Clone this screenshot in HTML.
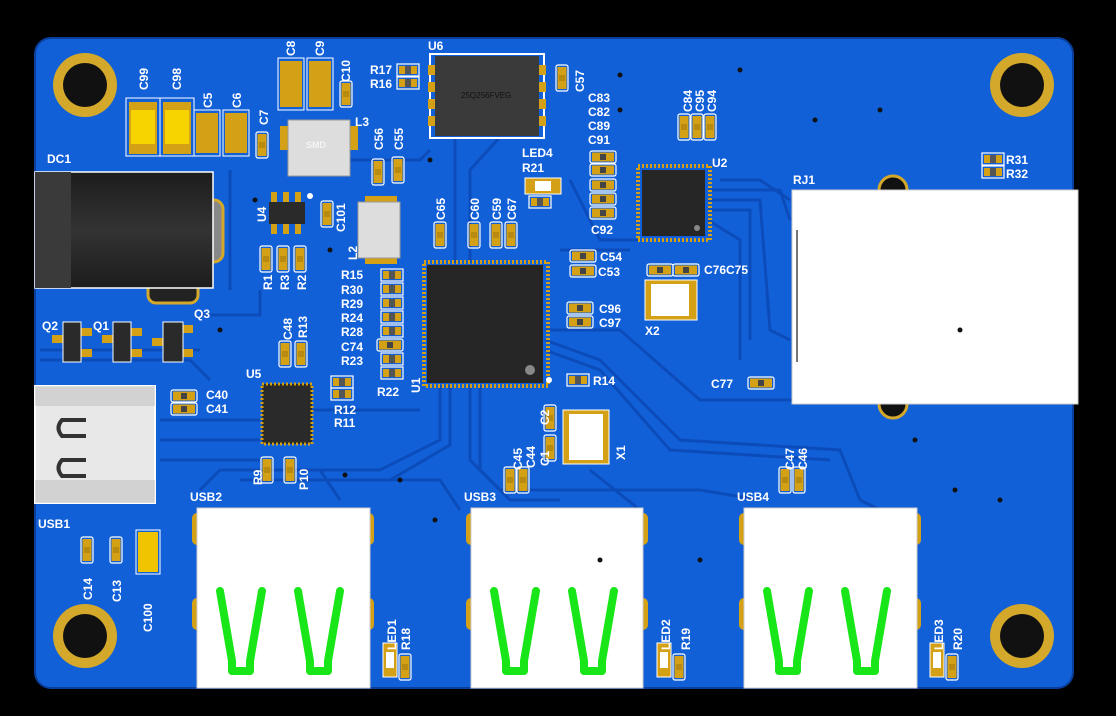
<!DOCTYPE html>
<html><head><meta charset="utf-8"><style>
html,body{margin:0;padding:0;background:#000;}
svg{display:block}
text{font-family:"Liberation Sans",sans-serif;font-weight:bold;fill:#fff;font-size:12px}
</style></head><body>
<svg width="1116" height="716" viewBox="0 0 1116 716" xmlns="http://www.w3.org/2000/svg">
<defs>
<g id="cv"><rect x="-6" y="-13" width="12" height="26" fill="none" stroke="#fff" stroke-width="1.2" rx="2"/><rect x="-4.5" y="-11" width="9" height="22" fill="#d4a016"/><rect x="-3" y="-3" width="6" height="6" fill="#b88a10"/></g>
<g id="ch"><rect x="-13" y="-6" width="26" height="12" fill="none" stroke="#fff" stroke-width="1.2" rx="2"/><rect x="-11" y="-4.5" width="22" height="9" fill="#d4a016"/><rect x="-3" y="-3" width="6" height="6" fill="#444"/></g>
<g id="rh"><rect x="-11" y="-6" width="22" height="12" fill="none" stroke="#fff" stroke-width="1.2"/><rect x="-9" y="-4" width="6" height="8" fill="#d4a016"/><rect x="3" y="-4" width="6" height="8" fill="#d4a016"/><rect x="-3" y="-4" width="6" height="8" fill="#555"/></g>
<g id="hole"><circle r="32" fill="#d4a82a"/><circle r="22" fill="#111"/></g>
<g id="usbg" fill="none" stroke="#19e619" stroke-width="8" stroke-linecap="round" stroke-linejoin="round"><path d="M0,0 L12,70 L12,80 L30,80 L30,70 L42,0"/><path d="M78,0 L90,70 L90,80 L108,80 L108,70 L120,0"/></g>
<linearGradient id="dcg" x1="0" y1="0" x2="0" y2="1"><stop offset="0" stop-color="#1c1c1c"/><stop offset=".5" stop-color="#333"/><stop offset="1" stop-color="#1c1c1c"/></linearGradient>
</defs>
<rect width="1116" height="716" fill="#000"/>
<rect x="35" y="38" width="1038" height="650" rx="16" fill="#1260d8" stroke="#0a3f9e" stroke-width="2"/>
<!-- traces -->
<g fill="none" stroke="#0c4cba" stroke-width="3">
<path d="M440,385 L440,440 L380,470 L220,470 L200,490"/><path d="M450,385 L450,445 L390,480 L240,480"/><path d="M470,385 L470,460 L500,490 L700,490 L760,500"/><path d="M480,385 L480,470 L510,500 L560,500"/><path d="M545,340 L600,360 L680,440 L840,450 L860,500"/><path d="M545,350 L600,370 L670,450 L830,460"/><path d="M545,330 L620,330 L700,400 L800,400"/><path d="M708,190 L780,190 L790,220"/><path d="M708,200 L760,200 L770,330 L790,340"/><path d="M708,210 L750,210 L750,340"/><path d="M708,220 L740,240 L740,360"/><path d="M500,137 L470,170 L470,263"/><path d="M455,137 L455,263"/><path d="M570,180 L600,240 L640,240"/><path d="M312,410 L420,410"/><path d="M160,420 L260,420"/><path d="M160,440 L260,440"/><path d="M160,460 L260,460"/><path d="M200,315 L260,315 L260,290"/><path d="M40,350 L200,350"/><path d="M40,360 L190,360 L210,380"/><path d="M230,170 L230,290"/><path d="M320,160 L420,160 L430,150"/><path d="M720,180 L760,180 L790,200"/><path d="M560,250 L630,250"/><path d="M860,500 L880,510"/><path d="M590,470 L640,510"/><path d="M320,470 L340,500"/><path d="M320,480 L440,480 L460,510"/></g>
<!-- holes -->
<use href="#hole" x="85" y="85"/><use href="#hole" x="1022" y="85"/><use href="#hole" x="85" y="636"/><use href="#hole" x="1022" y="636"/>
<!-- DC jack -->
<rect x="148" y="275" width="50" height="28" rx="8" fill="#222" stroke="#d4a82a" stroke-width="3"/>
<rect x="205" y="200" width="18" height="62" rx="9" fill="#888" stroke="#d4a82a" stroke-width="3"/>
<rect x="35" y="172" width="178" height="116" fill="url(#dcg)" stroke="#fff" stroke-width="1.5"/>
<rect x="35" y="172" width="36" height="116" fill="#3a3a3a"/>
<text x="47" y="163">DC1</text>
<!-- transistors -->
<g fill="#d4a016"><rect x="52" y="335" width="12" height="8"/><rect x="80" y="328" width="12" height="8"/><rect x="80" y="349" width="12" height="8"/><rect x="102" y="335" width="12" height="8"/><rect x="130" y="328" width="12" height="8"/><rect x="130" y="349" width="12" height="8"/><rect x="152" y="338" width="12" height="8"/><rect x="183" y="325" width="10" height="8"/><rect x="183" y="349" width="10" height="8"/></g>
<rect x="63" y="322" width="18" height="40" fill="#2a2a2a" stroke="#fff"/><rect x="113" y="322" width="18" height="40" fill="#2a2a2a" stroke="#fff"/><rect x="163" y="322" width="20" height="40" fill="#2a2a2a" stroke="#fff"/>
<text x="42" y="330">Q2</text><text x="93" y="330">Q1</text><text x="194" y="318">Q3</text>
<!-- USB-C -->
<rect x="35" y="386" width="120" height="117" fill="#e8e8e8" stroke="#fff" stroke-width="2"/>
<rect x="35" y="386" width="120" height="20" fill="#bbb" opacity=".5"/>
<rect x="35" y="480" width="120" height="23" fill="#bbb" opacity=".5"/>
<path d="M86,420 L62,420 Q55,428 62,436 L86,436" fill="none" stroke="#333" stroke-width="4"/>
<path d="M86,460 L62,460 Q55,468 62,476 L86,476" fill="none" stroke="#333" stroke-width="4"/>
<text x="38" y="528">USB1</text>
<use href="#ch" x="184" y="396"/><use href="#ch" x="184" y="409"/><text x="206" y="399">C40</text><text x="206" y="413">C41</text>
<!-- left bottom caps -->
<use href="#cv" x="87" y="550"/><use href="#cv" x="116" y="550"/>
<rect x="136" y="530" width="24" height="44" fill="none" stroke="#fff"/><rect x="138" y="532" width="20" height="40" fill="#f0c400"/>
<!-- top left caps -->
<rect x="126" y="98" width="34" height="58" fill="none" stroke="#fff"/><rect x="129" y="102" width="28" height="52" fill="#d4a016"/><rect x="131" y="110" width="24" height="34" fill="#f7d400"/>
<rect x="160" y="98" width="34" height="58" fill="none" stroke="#fff"/><rect x="163" y="102" width="28" height="52" fill="#d4a016"/><rect x="165" y="110" width="24" height="34" fill="#f7d400"/>
<rect x="194" y="110" width="26" height="46" fill="none" stroke="#fff"/><rect x="196" y="113" width="22" height="40" fill="#d4a016"/>
<rect x="223" y="110" width="26" height="46" fill="none" stroke="#fff"/><rect x="225" y="113" width="22" height="40" fill="#d4a016"/>
<use href="#cv" x="262" y="145"/>
<rect x="278" y="58" width="26" height="52" fill="none" stroke="#fff"/><rect x="280" y="61" width="22" height="46" fill="#d4a016"/>
<rect x="307" y="58" width="26" height="52" fill="none" stroke="#fff"/><rect x="309" y="61" width="22" height="46" fill="#d4a016"/>
<use href="#cv" x="346" y="94"/>
<!-- L3 -->
<rect x="280" y="126" width="8" height="24" fill="#d4a016"/><rect x="350" y="126" width="8" height="24" fill="#d4a016"/>
<rect x="288" y="120" width="62" height="56" fill="#ddd" stroke="#999"/><text x="306" y="148" style="font-size:9px;fill:#f4f4f4">SMD</text><text x="355" y="126">L3</text>
<!-- U4 -->
<g fill="#d4a016"><rect x="271" y="192" width="6" height="10"/><rect x="283" y="192" width="6" height="10"/><rect x="295" y="192" width="6" height="10"/><rect x="271" y="224" width="6" height="10"/><rect x="283" y="224" width="6" height="10"/><rect x="295" y="224" width="6" height="10"/></g>
<rect x="269" y="202" width="36" height="22" fill="#2a2a2a"/><circle cx="310" cy="196" r="3" fill="#fff"/>
<use href="#cv" x="327" y="214"/>
<use href="#cv" x="378" y="172"/><use href="#cv" x="398" y="170"/>
<!-- L2 -->
<rect x="365" y="196" width="32" height="8" fill="#d4a016"/><rect x="365" y="256" width="32" height="8" fill="#d4a016"/>
<rect x="358" y="202" width="42" height="56" fill="#ddd" stroke="#999"/>
<!-- R1-3 -->
<use href="#cv" x="266" y="259"/><use href="#cv" x="283" y="259"/><use href="#cv" x="300" y="259"/>
<!-- U5 -->
<rect x="262" y="384" width="50" height="60" fill="#2a2a2a" stroke="#d4a016" stroke-width="3" stroke-dasharray="2 2"/>
<text x="246" y="378">U5</text>
<use href="#cv" x="285" y="354"/><use href="#cv" x="301" y="354"/>
<use href="#rh" x="342" y="382"/><use href="#rh" x="342" y="394"/><text x="334" y="414">R12</text><text x="334" y="427">R11</text>
<use href="#cv" x="267" y="470"/><use href="#cv" x="290" y="470"/>
<!-- R stack -->
<g><use href="#rh" x="392" y="275"/><use href="#rh" x="392" y="289"/><use href="#rh" x="392" y="303"/><use href="#rh" x="392" y="317"/><use href="#rh" x="392" y="331"/><use href="#ch" x="390" y="345"/><use href="#rh" x="392" y="359"/><use href="#rh" x="392" y="373"/></g>
<text x="341" y="279">R15</text><text x="341" y="294">R30</text><text x="341" y="308">R29</text><text x="341" y="322">R24</text><text x="341" y="336">R28</text><text x="341" y="351">C74</text><text x="341" y="365">R23</text><text x="377" y="396">R22</text>
<!-- U1 -->
<rect x="424" y="262" width="124" height="124" fill="none" stroke="#d4a016" stroke-width="4" stroke-dasharray="2 2"/>
<rect x="427" y="265" width="116" height="118" fill="#262626"/><circle cx="530" cy="370" r="5" fill="#888"/><circle cx="549" cy="380" r="3" fill="#fff"/>
<!-- U6 -->
<rect x="430" y="54" width="114" height="84" fill="none" stroke="#fff" stroke-width="2"/>
<g fill="#d4a016"><rect x="428" y="65" width="7" height="10"/><rect x="428" y="82" width="7" height="10"/><rect x="428" y="99" width="7" height="10"/><rect x="428" y="116" width="7" height="10"/><rect x="539" y="65" width="7" height="10"/><rect x="539" y="82" width="7" height="10"/><rect x="539" y="99" width="7" height="10"/><rect x="539" y="116" width="7" height="10"/></g>
<rect x="435" y="56" width="104" height="80" fill="#3a3a3a"/>
<text x="461" y="98" style="font-size:8px;font-weight:normal;fill:#111">25Q256FVEG</text>
<text x="428" y="50">U6</text>
<use href="#rh" x="408" y="70"/><use href="#rh" x="408" y="83"/><text x="370" y="74">R17</text><text x="370" y="88">R16</text>
<use href="#cv" x="562" y="78"/>
<!-- mid caps -->
<use href="#cv" x="440" y="235"/><use href="#cv" x="474" y="235"/><use href="#cv" x="496" y="235"/><use href="#cv" x="511" y="235"/>
<text x="522" y="157">LED4</text><text x="522" y="172">R21</text>
<rect x="525" y="178" width="36" height="16" fill="#d4a016" stroke="#fff"/><rect x="535" y="181" width="16" height="10" fill="#fff"/>
<use href="#rh" x="540" y="202"/>
<text x="588" y="102">C83</text><text x="588" y="116">C82</text><text x="588" y="130">C89</text><text x="588" y="144">C91</text><text x="591" y="234">C92</text>
<use href="#ch" x="603" y="157"/><use href="#ch" x="603" y="170"/><use href="#ch" x="603" y="185"/><use href="#ch" x="603" y="199"/><use href="#ch" x="603" y="213"/>
<use href="#cv" x="684" y="127"/><use href="#cv" x="697" y="127"/><use href="#cv" x="710" y="127"/>
<!-- U2 -->
<rect x="638" y="166" width="72" height="74" fill="none" stroke="#d4a016" stroke-width="4" stroke-dasharray="2 2"/>
<rect x="642" y="170" width="63" height="66" fill="#262626"/><circle cx="697" cy="228" r="3" fill="#888"/>
<text x="712" y="167">U2</text>
<use href="#ch" x="583" y="256"/><use href="#ch" x="583" y="271"/><text x="600" y="261">C54</text><text x="598" y="276">C53</text>
<use href="#ch" x="660" y="270"/><use href="#ch" x="686" y="270"/><text x="704" y="274">C76C75</text>
<rect x="645" y="280" width="52" height="40" fill="#d4a016" stroke="#fff"/><rect x="651" y="284" width="38" height="32" fill="#fff"/>
<text x="645" y="335">X2</text>
<use href="#ch" x="580" y="308"/><use href="#ch" x="580" y="322"/><text x="599" y="313">C96</text><text x="599" y="327">C97</text>
<use href="#rh" x="578" y="380"/><text x="593" y="385">R14</text>
<use href="#ch" x="761" y="383"/><text x="711" y="388">C77</text>
<!-- X1 -->
<use href="#cv" x="550" y="418"/><use href="#cv" x="550" y="448"/>
<rect x="563" y="410" width="46" height="54" fill="#d4a016" stroke="#fff"/><rect x="569" y="414" width="34" height="46" fill="#fff"/>
<use href="#cv" x="510" y="480"/><use href="#cv" x="523" y="480"/><use href="#cv" x="785" y="480"/><use href="#cv" x="799" y="480"/>
<!-- RJ1 -->
<circle cx="893" cy="190" r="14" fill="#111" stroke="#d4a82a" stroke-width="3"/><circle cx="893" cy="404" r="14" fill="#111" stroke="#d4a82a" stroke-width="3"/>
<rect x="792" y="190" width="286" height="214" fill="#fff" stroke="#ccc"/>
<line x1="797" y1="230" x2="797" y2="362" stroke="#777" stroke-width="2"/>
<text x="793" y="184">RJ1</text>
<use href="#rh" x="993" y="159"/><use href="#rh" x="993" y="172"/><text x="1006" y="164">R31</text><text x="1006" y="178">R32</text>
<!-- USB ports -->
<g fill="#d4a016"><rect x="192" y="513" width="10" height="32" rx="5"/><rect x="364" y="513" width="10" height="32" rx="5"/><rect x="192" y="598" width="10" height="32" rx="5"/><rect x="364" y="598" width="10" height="32" rx="5"/>
<rect x="466" y="513" width="10" height="32" rx="5"/><rect x="638" y="513" width="10" height="32" rx="5"/><rect x="466" y="598" width="10" height="32" rx="5"/><rect x="638" y="598" width="10" height="32" rx="5"/>
<rect x="739" y="513" width="10" height="32" rx="5"/><rect x="911" y="513" width="10" height="32" rx="5"/><rect x="739" y="598" width="10" height="32" rx="5"/><rect x="911" y="598" width="10" height="32" rx="5"/></g>
<rect x="197" y="508" width="173" height="180" fill="#fff" stroke="#ccc"/>
<rect x="471" y="508" width="172" height="180" fill="#fff" stroke="#ccc"/>
<rect x="744" y="508" width="173" height="180" fill="#fff" stroke="#ccc"/>
<use href="#usbg" x="220" y="591"/><use href="#usbg" x="494" y="591"/><use href="#usbg" x="767" y="591"/>
<text x="190" y="501">USB2</text><text x="464" y="501">USB3</text><text x="737" y="501">USB4</text>
<rect x="383" y="643" width="14" height="34" fill="#d4a016" stroke="#fff"/><rect x="386" y="652" width="8" height="16" fill="#fff"/><use href="#cv" x="405" y="667"/>
<rect x="657" y="643" width="14" height="34" fill="#d4a016" stroke="#fff"/><rect x="660" y="652" width="8" height="16" fill="#fff"/><use href="#cv" x="679" y="667"/>
<rect x="930" y="643" width="14" height="34" fill="#d4a016" stroke="#fff"/><rect x="933" y="652" width="8" height="16" fill="#fff"/><use href="#cv" x="952" y="667"/>
<!-- rotated labels (drawn last) -->
<g transform="rotate(-90)">
<text x="-90" y="148">C99</text><text x="-90" y="181">C98</text><text x="-108" y="212">C5</text><text x="-108" y="241">C6</text><text x="-125" y="268">C7</text><text x="-56" y="295">C8</text><text x="-56" y="324">C9</text><text x="-82" y="350">C10</text>
<text x="-600" y="92">C14</text><text x="-602" y="121">C13</text><text x="-632" y="152">C100</text>
<text x="-222" y="266">U4</text><text x="-232" y="345">C101</text><text x="-150" y="383">C56</text><text x="-150" y="403">C55</text><text x="-260" y="357">L2</text><text x="-220" y="445">C65</text><text x="-220" y="479">C60</text><text x="-220" y="501">C59</text><text x="-220" y="516">C67</text>
<text x="-290" y="272">R1</text><text x="-290" y="289">R3</text><text x="-290" y="306">R2</text><text x="-340" y="292">C48</text><text x="-338" y="307">R13</text><text x="-485" y="262">R9</text><text x="-490" y="308">P10</text><text x="-470" y="522">C45</text><text x="-468" y="535">C44</text><text x="-466" y="549">C1</text><text x="-425" y="549">C2</text><text x="-460" y="625">X1</text><text x="-470" y="794">C47</text><text x="-470" y="807">C46</text><text x="-650" y="396">LED1</text><text x="-650" y="410">R18</text><text x="-650" y="670">LED2</text><text x="-650" y="690">R19</text><text x="-650" y="943">LED3</text><text x="-650" y="962">R20</text><text x="-393" y="420">U1</text><text x="-92" y="584">C57</text><text x="-112" y="692">C84</text><text x="-112" y="704">C95</text><text x="-112" y="716">C94</text></g>
<!-- vias -->
<g fill="#111"><circle cx="620" cy="75" r="2.5"/><circle cx="620" cy="110" r="2.5"/><circle cx="430" cy="160" r="2.5"/><circle cx="600" cy="560" r="2.5"/><circle cx="700" cy="560" r="2.5"/><circle cx="435" cy="520" r="2.5"/><circle cx="955" cy="490" r="2.5"/><circle cx="1000" cy="500" r="2.5"/><circle cx="915" cy="440" r="2.5"/><circle cx="960" cy="330" r="2.5"/><circle cx="345" cy="475" r="2.5"/><circle cx="400" cy="480" r="2.5"/><circle cx="220" cy="330" r="2.5"/><circle cx="255" cy="200" r="2.5"/><circle cx="330" cy="250" r="2.5"/><circle cx="815" cy="120" r="2.5"/><circle cx="880" cy="110" r="2.5"/><circle cx="740" cy="70" r="2.5"/></g>
</svg>
</body></html>
